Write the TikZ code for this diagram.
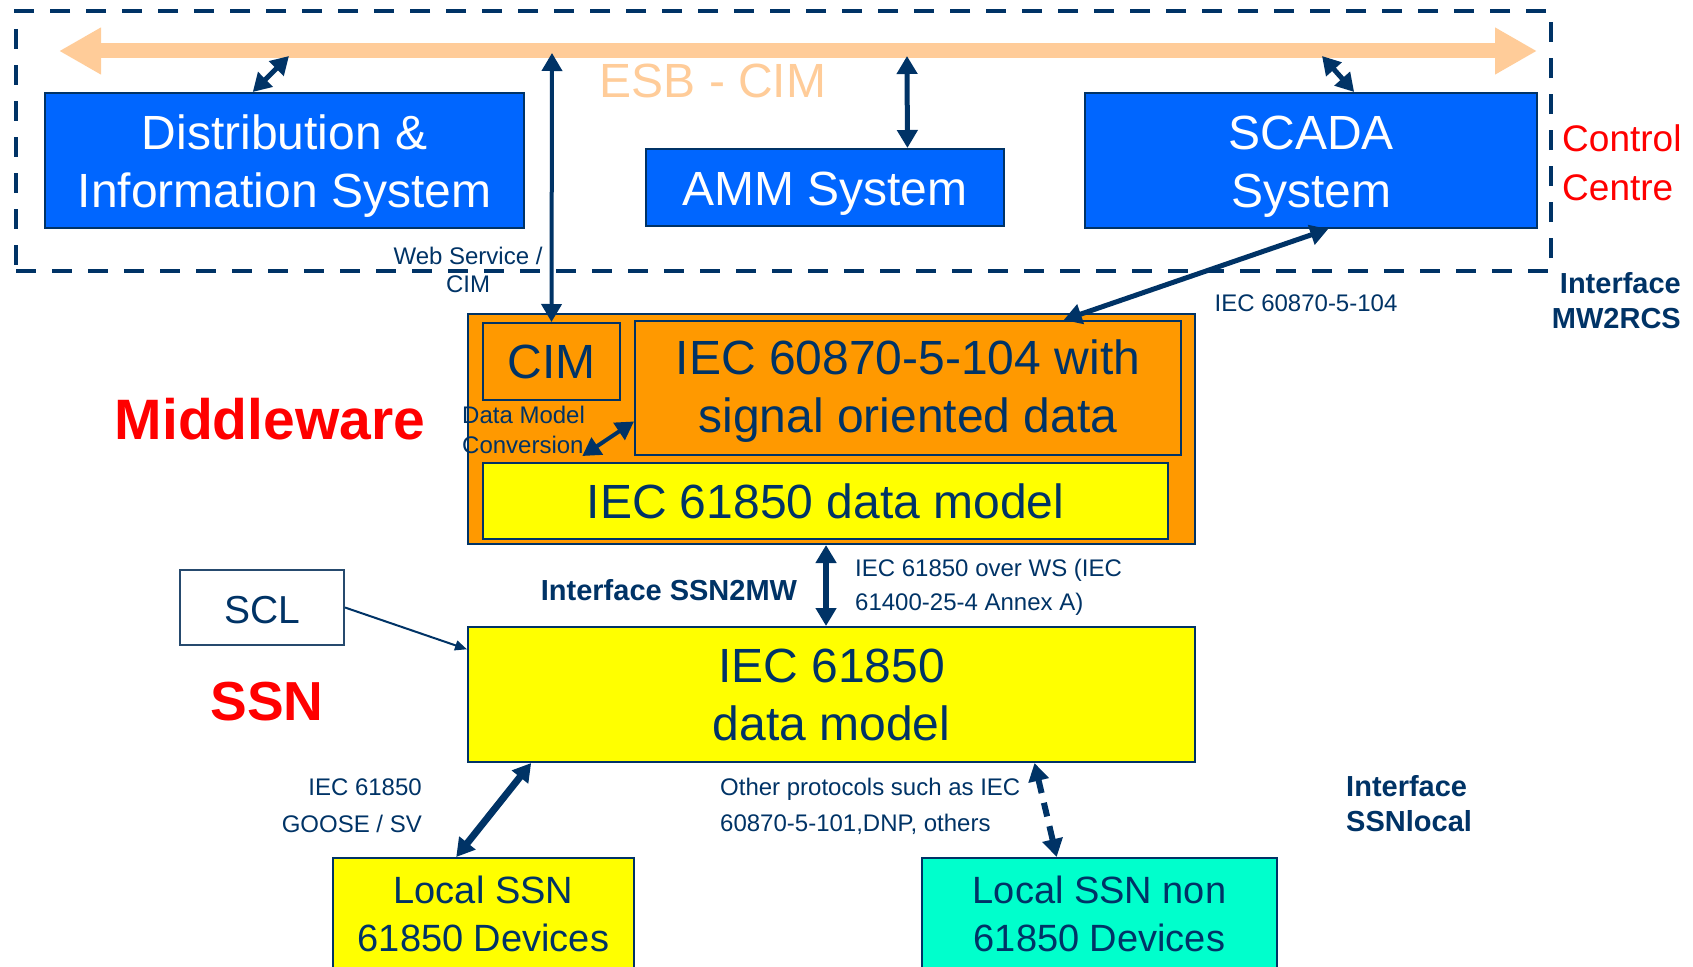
\documentclass[tikz,border=0pt]{standalone}
\usepackage{fontspec}
\setmainfont{Liberation Sans}
\usetikzlibrary{arrows.meta,calc}
\definecolor{navy}{HTML}{003366}
\definecolor{boxblue}{HTML}{0066FF}
\definecolor{mworange}{HTML}{FF9900}
\definecolor{ssnyellow}{HTML}{FFFF00}
\definecolor{ssncyan}{HTML}{00FFCC}
\definecolor{peach}{HTML}{FFCC99}
\definecolor{labelred}{HTML}{FF0000}
\newcommand\toppad{\rule{0pt}{45pt}}
\tikzset{
  box/.style={draw=navy, line width=2pt, inner sep=0pt, align=center, font=\fontsize{48}{58}\selectfont},
  bluebox/.style={box, fill=boxblue, text=white},
  orangebox/.style={box, fill=mworange, text=navy},
  yellowbox/.style={box, fill=ssnyellow, text=navy},
  devbox/.style={box, text=navy, font=\fontsize{38}{48}\selectfont},
  small/.style={text=navy, inner sep=0pt, font=\fontsize{24}{30}\selectfont},
  iface/.style={text=navy, inner sep=0pt, font=\bfseries\fontsize{29}{35}\selectfont},
  dbl/.style={draw=navy, line width=#1, {Triangle[length=18pt,width=20pt]}-{Triangle[length=18pt,width=20pt]}},
  dbl/.default=5pt,
  esb/.style={draw=peach, line width=15pt, {Triangle[length=42pt,width=44pt]}-{Triangle[length=42pt,width=44pt]}},
  region/.style={draw=navy, line width=4pt, dash pattern=on 20pt off 16pt}
}
\begin{document}
\begin{tikzpicture}[x=1pt,y=-1pt]
\useasboundingbox (0,0) rectangle (1693,966);
\clip (0,0) rectangle (1693,966);

% control centre region
\node[region, minimum width=1535pt, minimum height=260pt, inner sep=0pt] (cc) at (783.5,141) {};

% ESB
\coordinate (esbL) at (59,51);
\coordinate (esbR) at (1537,51);
\draw[esb] (esbL) -- (esbR);
\node[text=peach, inner sep=0pt, font=\fontsize{48}{58}\selectfont] (esbtxt) at (713,81) {ESB - CIM};

% control centre systems
\node[bluebox, minimum width=479pt, minimum height=135pt] (dist) at (284.5,160.5) {\toppad Distribution \&\\Information System};
\node[bluebox, minimum width=358pt, minimum height=77pt] (amm) at (825,187.5) {\toppad AMM System};
\node[bluebox, minimum width=452pt, minimum height=135pt] (scada) at (1311,160.5) {\toppad SCADA\\System};

\node[text=labelred, inner sep=0pt, anchor=west, align=left, font=\fontsize{37}{49}\selectfont] (cctxt) at (1562,162.5) {Control\\Centre};
\node[iface, anchor=east, align=right] (mw2rcs) at (1681,301) {Interface\\MW2RCS};

% middleware
\node[orangebox, minimum width=727pt, minimum height=230pt] (mw) at (831.5,429) {};
\node[orangebox, minimum width=137pt, minimum height=77pt] (cim) at (551.5,361.5) {CIM};
\node[orangebox, minimum width=546pt, minimum height=134pt] (iec104) at (908,388) {\rule{0pt}{40pt}IEC 60870-5-104 with\\signal oriented data};
\node[yellowbox, minimum width=685pt, minimum height=76pt] (iecdm) at (825.5,501) {IEC 61850 data model};
\node[text=labelred, inner sep=0pt, font=\bfseries\fontsize{57}{60}\selectfont] (mwtxt) at (270,419) {Middleware};
\node[small, anchor=west, align=left] (dmc) at (462,429.5) {Data Model\\Conversion};

% SSN
\node[yellowbox, minimum width=727pt, minimum height=135pt] (ssn) at (831.5,694.5) {IEC 61850\\data model};
\node[box, draw=navy!70!gray, fill=white, text=navy, minimum width=164pt, minimum height=75pt, font=\fontsize{39}{45}\selectfont] (scl) at (262,607.5) {\rule{0pt}{33pt}SCL};
\node[text=labelred, inner sep=0pt, font=\bfseries\fontsize{55}{60}\selectfont] (ssntxt) at (267,702) {SSN};
\node[iface] (ssn2mw) at (669,590) {Interface SSN2MW};
\node[small, anchor=west, align=left, font=\fontsize{24}{34}\selectfont] (ws) at (855,587) {IEC 61850 over WS (IEC\\61400-25-4 Annex A)};

% local devices
\node[devbox, fill=ssnyellow, minimum width=301pt, minimum height=112pt] (loc) at (483.5,914) {Local SSN\\61850 Devices};
\node[devbox, fill=ssncyan, minimum width=355pt, minimum height=112pt] (non) at (1099.5,914) {Local SSN non\\61850 Devices};
\node[small, anchor=east, align=right, font=\fontsize{24}{37}\selectfont] (goose) at (422,805.5) {IEC 61850\\GOOSE / SV};
\node[small, anchor=west, align=left, font=\fontsize{24}{36}\selectfont] (other) at (720,806) {Other protocols such as IEC\\60870-5-101,DNP, others};
\node[iface, anchor=west, align=left] (ssnlocal) at (1346,803.5) {Interface\\SSNlocal};

% small labels top
\node[small, align=center, font=\fontsize{24}{28}\selectfont] (wsc) at (468,270) {Web Service /\\CIM};
\node[small] (iec104lbl) at (1306,303) {IEC 60870-5-104};

% connectors
\coordinate (d1) at (289,56);
\draw[dbl=5pt] ($(dist.north west)!0.434!(dist.north east)$) -- (d1);
\coordinate (c1) at (552,53);
\draw[dbl=4pt] (cim.north) -- (c1);
\coordinate (a1) at (907,56);
\draw[dbl=5pt] ($(amm.north west)!0.729!(amm.north east)$) -- (a1);
\coordinate (s1) at (1322,56);
\draw[dbl=5pt] ($(scada.north west)!0.595!(scada.north east)$) -- (s1);
\draw[dbl=5pt] ($(scada.south west)!0.538!(scada.south east)$) -- ($(iec104.north west)!0.784!(iec104.north east)$);
\draw[dbl=4pt] ($(iecdm.north west)!0.146!(iecdm.north east)+(0,-6)$) -- ($(iec104.north west)!0.746!(iec104.south west)$);
\draw[dbl=6pt] ($(mw.south west)!0.4925!(mw.south east)$) -- ($(ssn.north west)!0.4925!(ssn.north east)$);
\draw[draw=navy, line width=2pt, -{Triangle[length=12pt,width=10pt]}] (scl.east) -- ($(ssn.north west)!0.17!(ssn.south west)$);
\draw[dbl=7pt] ($(ssn.south west)!0.088!(ssn.south east)$) -- ($(loc.north west)!0.41!(loc.north east)$);
\draw[dbl=6pt, dash pattern=on 14pt off 10pt] ($(ssn.south west)!0.7785!(ssn.south east)$) -- ($(non.north west)!0.38!(non.north east)$);
\end{tikzpicture}
\end{document}
